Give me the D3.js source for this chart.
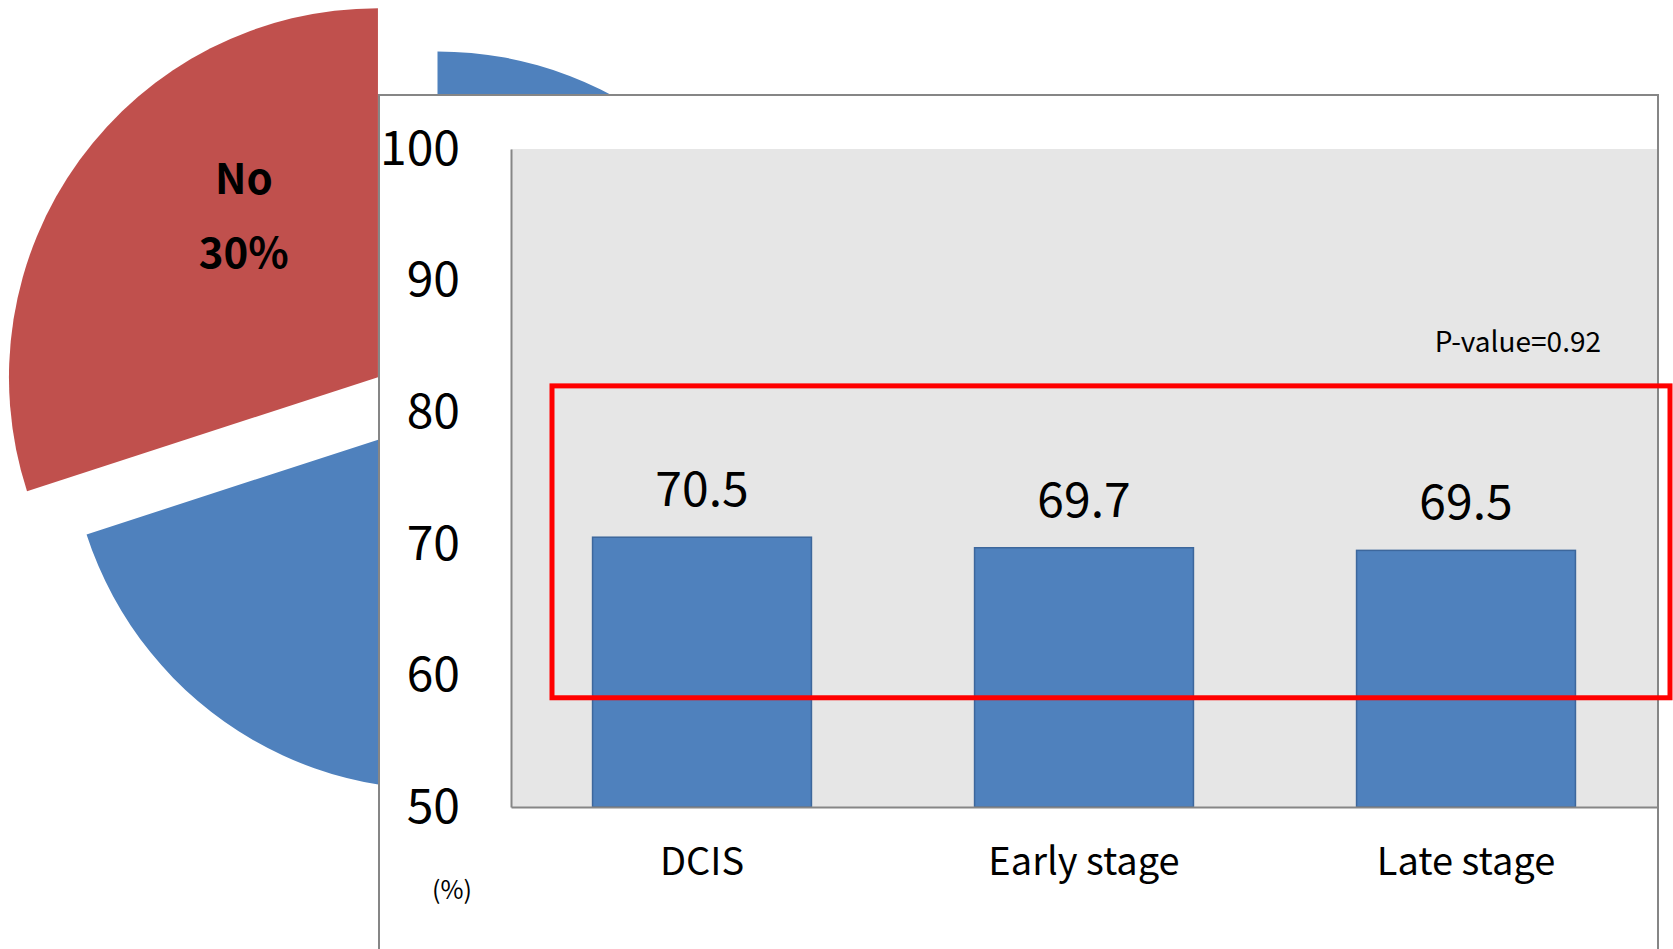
<!DOCTYPE html>
<html>
<head>
<meta charset="utf-8">
<script src="https://cdn.jsdelivr.net/npm/d3@7"></script>
<style>
  html, body { margin: 0; padding: 0; background: #ffffff; }
  svg { display: block; }
  text { font-family: "Noto Sans CJK KR", "Open Sans", sans-serif; }
</style>
</head>
<body>
<svg id="chart" width="1673" height="949"></svg>
<script>
// Pie: share of respondents
const pieLabels = ["Yes", "No"];
const pieValues = [70, 30];
const pieColors = ["#4f81bd", "#c0504d"];

// Bars: rate by stage (%)
const categories = ["DCIS", "Early stage", "Late stage"];
const rates = [70.5, 69.7, 69.5];
const yTicks = [50, 60, 70, 80, 90, 100];
const pValueText = "P-value=0.92";
const unitText = "(%)";

// Highlight box around the bar values (value range)
const highlightRange = [58.3, 82.0];

const svg = d3.select("#chart");
const W = 1673, H = 949;

// ---------- background pie ----------
const pieCenter = [437.5, 420.4];
const pieR = 369;
const explode = 73.6;

const pie = d3.pie().sort(null).startAngle(0).endAngle(2 * Math.PI);
const arcs = pie(pieValues);
const arcGen = d3.arc().innerRadius(0).outerRadius(pieR);

const pieG = svg.append("g").attr("transform", `translate(${pieCenter[0]},${pieCenter[1]})`);
arcs.forEach((a, i) => {
  const mid = (a.startAngle + a.endAngle) / 2;
  const off = i === 1 ? explode : 0;
  const dx = off * Math.sin(mid), dy = -off * Math.cos(mid);
  const g = pieG.append("g").attr("transform", `translate(${dx},${dy})`);
  g.append("path").attr("d", arcGen(a)).attr("fill", pieColors[i]);
  if (i === 1) {
    const ang = 320.2 * Math.PI / 180, rr = pieR * 0.568;
    const lx = rr * Math.sin(ang), ly = -rr * Math.cos(ang);
    g.append("text").attr("x", lx).attr("y", ly - 37).attr("dy", "0.35em")
      .attr("text-anchor", "middle").attr("font-size", 42).attr("font-weight", "bold")
      .attr("fill", "#000").text(pieLabels[i]);
    g.append("text").attr("x", lx).attr("y", ly + 37).attr("dy", "0.35em")
      .attr("text-anchor", "middle").attr("font-size", 42).attr("font-weight", "bold")
      .attr("fill", "#000").text(pieValues[i] + "%");
  }
});

// ---------- bar chart panel ----------
const box = { left: 379, top: 95, right: 1658, bottom: 970 };
svg.append("rect")
  .attr("x", box.left).attr("y", box.top)
  .attr("width", box.right - box.left).attr("height", box.bottom - box.top)
  .attr("fill", "#ffffff").attr("stroke", "#868686").attr("stroke-width", 2);

const plot = { left: 511, top: 149, right: 1657, bottom: 807 };

svg.append("rect")
  .attr("x", plot.left).attr("y", plot.top)
  .attr("width", plot.right - plot.left).attr("height", plot.bottom - plot.top)
  .attr("fill", "#e6e6e6");

const y = d3.scaleLinear().domain([50, 100]).range([plot.bottom, plot.top]);
const x = d3.scaleBand().domain(categories).range([plot.left, plot.right])
  .paddingInner(0.427).paddingOuter(0.2135);

// bars
svg.append("g").selectAll("rect").data(rates).join("rect")
  .attr("x", (d, i) => x(categories[i]))
  .attr("y", d => y(d))
  .attr("width", x.bandwidth())
  .attr("height", d => y(50) - y(d))
  .attr("fill", "#4f81bd")
  .attr("stroke", "#3d679c").attr("stroke-width", 1.5);

// value labels
svg.append("g").selectAll("text").data(rates).join("text")
  .attr("x", (d, i) => x(categories[i]) + x.bandwidth() / 2)
  .attr("y", d => y(d) - 31)
  .attr("text-anchor", "middle").attr("font-size", 48).attr("fill", "#000")
  .text(d => d.toFixed(1));

// y axis
const yAxis = svg.append("g").attr("transform", `translate(${plot.left},0)`)
  .call(d3.axisLeft(y).tickValues(yTicks).tickSize(0).tickSizeOuter(0).tickPadding(51));
yAxis.select(".domain").attr("stroke", "#868686").attr("stroke-width", 2);
yAxis.selectAll("text").attr("font-size", 48).attr("fill", "#000")
  .style("font-family", '"Noto Sans CJK KR", "Open Sans", sans-serif');

// x axis
const xAxis = svg.append("g").attr("transform", `translate(0,${plot.bottom})`)
  .call(d3.axisBottom(x).tickSize(0).tickSizeOuter(0));
xAxis.select(".domain").attr("stroke", "#868686").attr("stroke-width", 2);
xAxis.selectAll("text").attr("y", 68).attr("dy", 0).attr("font-size", 38).attr("fill", "#000")
  .style("font-family", '"Noto Sans CJK KR", "Open Sans", sans-serif');

// unit label
svg.append("text").attr("x", 452).attr("y", 899)
  .attr("text-anchor", "middle").attr("font-size", 25).attr("fill", "#000").text(unitText);

// p-value note
svg.append("text").attr("x", plot.right - 56).attr("y", y(84.56))
  .attr("text-anchor", "end").attr("font-size", 28).attr("fill", "#000").text(pValueText);

// highlight frame
svg.append("rect")
  .attr("x", plot.left + 41).attr("y", y(highlightRange[1]))
  .attr("width", 1670 - (plot.left + 41)).attr("height", y(highlightRange[0]) - y(highlightRange[1]))
  .attr("fill", "none").attr("stroke", "#ff0000").attr("stroke-width", 5);
</script>
</body>
</html>
